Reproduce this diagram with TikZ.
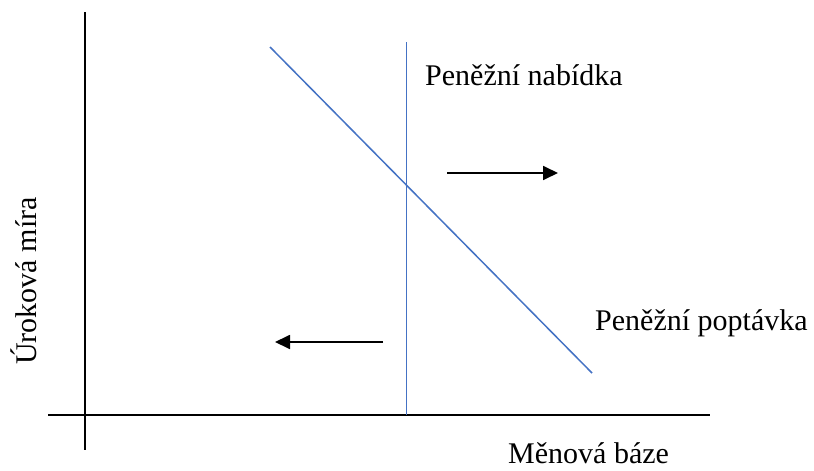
\documentclass[tikz,border=0pt]{standalone}
\usepackage{fontspec}
\setmainfont{Liberation Serif}
\usetikzlibrary{arrows.meta}
\definecolor{curveblue}{RGB}{68,114,196}
\begin{document}
\begin{tikzpicture}[x=1pt,y=-1pt,
  axis/.style={black,line width=1.8pt},
  curve/.style={curveblue,line width=1.5pt},
  shift arrow/.style={black,line width=1.8pt,-{Triangle[length=15pt,width=14pt]}},
  lbl/.style={font=\fontsize{30}{36}\selectfont,inner sep=0pt}]
\useasboundingbox[fill=white] (0,0) rectangle (814,471);
% axes
\coordinate (ytop) at (85,12);
\coordinate (ybot) at (85,450);
\coordinate (xl) at (48,415);
\coordinate (xr) at (710,415);
\draw[axis] (ytop) -- (ybot);
\draw[axis] (xl) -- (xr);
% money supply (vertical)
\coordinate (ms1) at (406.5,42);
\coordinate (ms2) at (406.5,415);
\draw[curve] (ms1) -- (ms2);
% money demand (diagonal)
\coordinate (md1) at (270,47);
\coordinate (md2) at (592,373);
\draw[curve] (md1) -- (md2);
% shift arrows
\coordinate (ra1) at (447,173);
\coordinate (ra2) at (558,173);
\draw[shift arrow] (ra1) -- (ra2);
\coordinate (la1) at (383,342);
\coordinate (la2) at (275,342);
\draw[shift arrow] (la1) -- (la2);
% labels
\node[lbl,anchor=base west] (supply) at (425,85) {Peněžní nabídka};
\node[lbl,anchor=base west] (demand) at (595,330) {Peněžní poptávka};
\node[lbl,anchor=base west] (xlabel) at (508,463) {Měnová báze};
\node[lbl,anchor=base,rotate=90] (ylabel) at (36,281) {Úroková míra};
\end{tikzpicture}
\end{document}
